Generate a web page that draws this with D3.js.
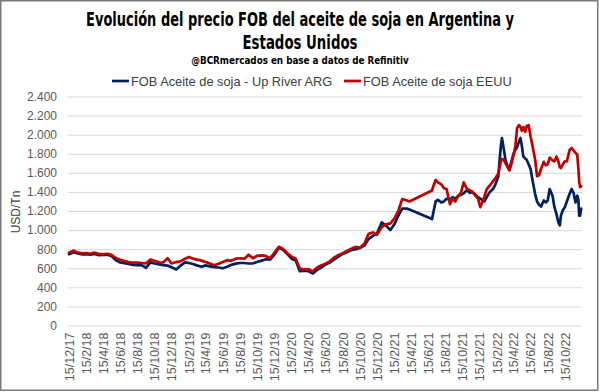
<!DOCTYPE html>
<html><head><meta charset="utf-8">
<script src="https://cdn.jsdelivr.net/npm/d3@7"></script>
<style>body{margin:0;background:#fff;} svg{display:block;}</style>
</head><body><svg id="c" width="600" height="392"></svg>
<script>
const dates = ["2017-12-15","2018-01-01","2018-01-15","2018-02-01","2018-02-15","2018-03-01","2018-03-15","2018-04-01","2018-04-15","2018-05-01","2018-05-15","2018-06-01","2018-06-15","2018-07-01","2018-07-15","2018-08-01","2018-08-15","2018-09-01","2018-09-15","2018-10-01","2018-10-15","2018-11-01","2018-11-15","2018-12-01","2018-12-15",
"2019-01-01","2019-01-15","2019-02-01","2019-02-15","2019-03-01","2019-03-15","2019-04-01","2019-04-15","2019-05-01","2019-05-15","2019-06-01","2019-06-15","2019-07-01","2019-07-15","2019-08-01","2019-08-15","2019-09-01","2019-09-15","2019-10-01","2019-10-15","2019-11-01","2019-11-15","2019-12-01","2019-12-15",
"2020-01-01","2020-01-15","2020-02-01","2020-02-15","2020-03-01","2020-03-15","2020-04-01","2020-04-15","2020-05-01","2020-05-15","2020-06-01","2020-06-15","2020-07-01","2020-07-15","2020-08-01","2020-08-15","2020-09-01","2020-09-15","2020-10-01","2020-10-15","2020-11-01","2020-11-15","2020-12-01","2020-12-15",
"2021-01-01","2021-01-15","2021-02-01","2021-02-15","2021-03-01","2021-03-15","2021-04-01","2021-04-10",
"2021-06-29","2021-07-05","2021-07-12","2021-07-20","2021-08-01","2021-08-10","2021-08-20","2021-09-01","2021-09-10","2021-09-20","2021-10-01","2021-10-10","2021-10-20","2021-11-01","2021-11-10","2021-11-20","2021-12-01","2021-12-10","2021-12-18",
"2022-01-01","2022-01-10","2022-01-20","2022-02-01","2022-02-10","2022-02-20","2022-03-01","2022-03-05","2022-03-10","2022-03-18","2022-03-25","2022-04-01","2022-04-08","2022-04-15","2022-04-22","2022-04-28","2022-05-05","2022-05-10","2022-05-15","2022-05-20","2022-05-27","2022-06-01","2022-06-08","2022-06-15","2022-06-22","2022-07-01","2022-07-08","2022-07-15","2022-07-22","2022-08-01","2022-08-08","2022-08-15","2022-08-22","2022-09-01","2022-09-08","2022-09-15","2022-09-22","2022-09-27","2022-10-01","2022-10-08","2022-10-15","2022-10-22","2022-11-01","2022-11-08","2022-11-15","2022-11-22","2022-11-28","2022-12-02","2022-12-05","2022-12-08","2022-12-12"];

const argValues = [748,768,755,745,748,742,750,738,740,742,728,682,660,652,645,635,632,630,605,662,650,640,632,628,610,
588,625,662,655,645,630,615,630,620,612,608,600,615,635,648,655,655,650,652,665,680,695,690,740,
815,795,745,700,680,570,575,570,545,580,610,640,660,690,725,750,770,790,800,812,840,905,940,965,
1080,1050,1000,1060,1150,1225,1225,1215,
1115,1200,1300,1316,1290,1300,1330,1316,1345,1330,1360,1368,1386,1420,1390,1400,1370,1345,1330,
1300,1345,1395,1430,1480,1560,1880,1965,1880,1730,1670,1650,1720,1800,1840,1870,1930,1965,1880,1772,1750,1737,1690,1640,1520,1380,1300,1265,1246,1310,1290,1310,1430,1360,1240,1170,1080,1050,1150,1210,1240,1300,1380,1430,1390,1290,1360,1320,1150,1150,1225];

const usValues = [762,785,765,756,760,752,765,748,747,752,740,705,688,675,665,658,660,655,652,690,678,662,660,705,650,
665,672,700,718,702,690,680,665,650,632,648,665,685,678,700,705,700,742,705,730,735,730,705,760,
825,805,755,722,700,600,585,592,565,605,632,648,675,710,740,758,785,805,825,815,860,960,975,950,
1030,1060,1070,1120,1200,1325,1310,1300,
1415,1470,1525,1500,1480,1440,1430,1270,1330,1300,1360,1390,1500,1430,1420,1400,1360,1330,1240,
1345,1430,1465,1510,1545,1590,1720,1745,1740,1700,1660,1625,1700,1780,1880,2070,2100,2080,2040,2080,2030,2090,2100,1980,1880,1740,1565,1575,1640,1715,1680,1690,1760,1730,1720,1770,1720,1660,1650,1690,1720,1720,1840,1860,1835,1810,1790,1650,1510,1450,1460];

const yTicks = [0,200,400,600,800,1000,1200,1400,1600,1800,2000,2200,2400];
const xTickLabels = ["15/12/17","15/2/18","15/4/18","15/6/18","15/8/18","15/10/18","15/12/18","15/2/19","15/4/19","15/6/19","15/8/19","15/10/19","15/12/19","15/2/20","15/4/20","15/6/20","15/8/20","15/10/20","15/12/20","15/2/21","15/4/21","15/6/21","15/8/21","15/10/21","15/12/21","15/2/22","15/4/22","15/6/22","15/8/22","15/10/22"];
const seriesNames = ["FOB Aceite de soja - Up River ARG","FOB Aceite de soja EEUU"];
const seriesColors = ["#002060","#C00000"];

const svg = d3.select("#c");
const parseISO = d3.timeParse("%Y-%m-%d");
const parseLbl = d3.timeParse("%d/%m/%y");
const dts = dates.map(parseISO);

const x = d3.scaleTime().domain([new Date(2017,11,15), new Date(2022,11,15)]).range([69,582]);
const y = d3.scaleLinear().domain([0,2400]).range([325.5,96.5]);
const loc = d3.formatLocale({decimal:",", thousands:".", grouping:[3], currency:["$",""]});
const fmt = loc.format(",");

svg.append("rect").attr("x",0.75).attr("y",0.75).attr("width",597).attr("height",389.5)
  .attr("fill","#fff").attr("stroke","#7a7a7a").attr("stroke-width",1.5);

// y axis with gridlines
const gy = svg.append("g").attr("transform","translate(68,0)")
  .call(d3.axisLeft(y).tickValues(yTicks).tickSize(-514).tickPadding(11).tickFormat(fmt));
gy.select(".domain").remove();
gy.selectAll(".tick line").attr("stroke","#d9d9d9").attr("stroke-width",1);
gy.selectAll(".tick text").attr("fill","#595959").style("font-family","Liberation Sans, Arial, sans-serif").style("font-size","12px");

// x axis
const gx = svg.append("g").attr("transform","translate(0,325.5)")
  .call(d3.axisBottom(x).tickValues(xTickLabels.map(parseLbl)).tickSize(0).tickFormat((d,i)=>xTickLabels[i]));
gx.select(".domain").remove();
gx.selectAll(".tick text").attr("fill","#595959").style("font-family","Liberation Sans, Arial, sans-serif").style("font-size","12.5px")
  .attr("transform","rotate(-90)").attr("text-anchor","end").attr("x",-7).attr("y",0).attr("dy","0.35em");

// lines
const line = d3.line().x(d=>x(d[0])).y(d=>y(d[1]));
[argValues, usValues].forEach((vals,i)=>{
  svg.append("path").datum(dts.map((d,j)=>[d,vals[j]]))
    .attr("d",line).attr("fill","none").attr("stroke",seriesColors[i])
    .attr("stroke-width",2.7).attr("stroke-linejoin","round").attr("stroke-linecap","round");
});

// y title
svg.append("text").attr("transform","translate(20,212) rotate(-90)").attr("text-anchor","middle")
  .attr("fill","#404040").style("font-family","Liberation Sans, Arial, sans-serif").style("font-size","12px").text("USD/Tn");

// titles, condensed by horizontal scaling to the reference widths
const tf = "'Liberation Sans Narrow','DejaVu Sans Condensed','Liberation Sans',Arial,sans-serif";
function fitText(txt, cy, size, width){
  const t = svg.append("text").attr("x",0).attr("y",0).attr("text-anchor","middle")
    .style("font-family",tf).style("font-weight","bold").style("font-size",size+"px").attr("fill","#000").text(txt);
  const w = t.node().getComputedTextLength();
  t.attr("transform",`translate(300,${cy}) scale(${width/w},1)`);
}
fitText("Evolución del precio FOB del aceite de soja en Argentina y", 26, 19.5, 428);
fitText("Estados Unidos", 48.5, 19.5, 115);
fitText("@BCRmercados  en base a datos de Refinitiv", 64, 11, 218);

// legend
const legX = [112, 344];
seriesNames.forEach((n,i)=>{
  const g = svg.append("g");
  g.append("line").attr("x1",legX[i]).attr("x2",legX[i]+17).attr("y1",81).attr("y2",81)
    .attr("stroke",seriesColors[i]).attr("stroke-width",2.7);
  g.append("text").attr("x",legX[i]+19).attr("y",85.5).attr("fill","#404040")
    .style("font-family","Liberation Sans, Arial, sans-serif").style("font-size","12.8px").text(n);
});
</script></body></html>
